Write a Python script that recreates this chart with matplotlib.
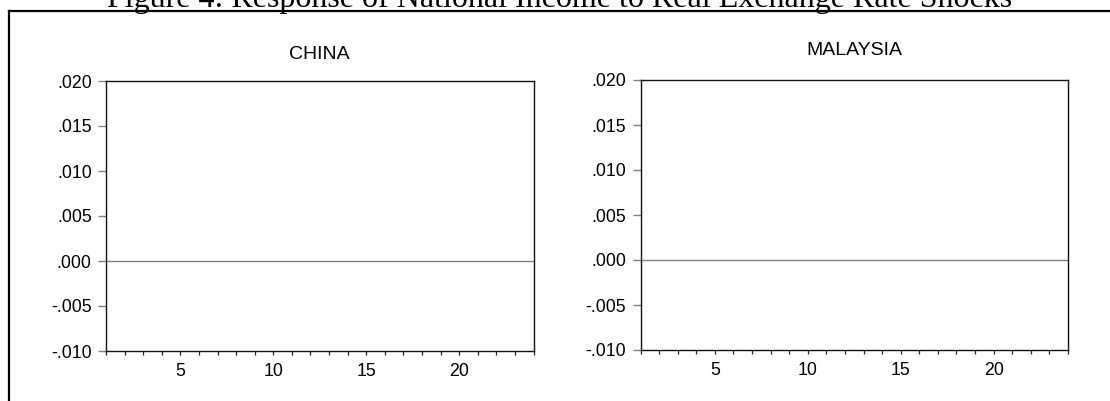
import matplotlib
matplotlib.use("Agg")
import matplotlib.pyplot as plt
from matplotlib.lines import Line2D

# panels and axis settings
countries = ["CHINA", "MALAYSIA"]
periods = [1, 24]
baseline = [0.0, 0.0]
y_ticks = [-0.010, -0.005, 0.000, 0.005, 0.010, 0.015, 0.020]
y_labels = ["-.010", "-.005", ".000", ".005", ".010", ".015", ".020"]
x_major = [5, 10, 15, 20]
x_minor = list(range(1, 25))
fig_title = "Figure 4: Response of National Income to Real Exchange Rate Shocks"

W, H = 1110, 401
fig = plt.figure(figsize=(W / 100, H / 100), dpi=100)
plt.rcParams["font.family"] = ["Liberation Sans", "DejaVu Sans"]

# pixel boxes: left, top, right, bottom
boxes = [(106, 81, 533.5, 351), (640.5, 80, 1068, 350)]
title_pads = [16.0, 18.0]

for name, box, pad in zip(countries, boxes, title_pads):
    l, t, r, b = box
    ax = fig.add_axes([l / W, 1 - b / H, (r - l) / W, (b - t) / H])
    ax.plot(periods, baseline, color="#808080", lw=1.0)
    ax.set_xlim(1, 24)
    ax.set_ylim(-0.010, 0.020)
    ax.set_yticks(y_ticks)
    ax.set_yticklabels(y_labels)
    ax.set_xticks(x_major)
    ax.set_xticks(x_minor, minor=True)
    ax.tick_params(axis="y", direction="out", length=5.8, width=1.0,
                   color="#808080", pad=4.5, labelsize=12.8)
    ax.tick_params(axis="x", which="both", direction="out", length=3,
                   width=0.9, color="#222222", pad=5.5, labelsize=12.8)
    for s in ax.spines.values():
        s.set_linewidth(1.0)
        s.set_color("#111111")
    ax.set_title(name, fontsize=14, pad=pad)

# outer frame (top and left edge visible)
fig.add_artist(Line2D([9 / W, 1.0], [1 - 11 / H, 1 - 11 / H], color="black",
                      lw=1.6, transform=fig.transFigure))
fig.add_artist(Line2D([9 / W, 9 / W], [0.0, 1 - 11 / H], color="black",
                      lw=1.6, transform=fig.transFigure))

# the heading is cut by the top edge in the reference as well
fig.text(560 / W, 1 - 7 / H, fig_title, ha="center", va="baseline",
         fontsize=23, family="Liberation Serif")

fig.savefig("out.png", dpi=100)
